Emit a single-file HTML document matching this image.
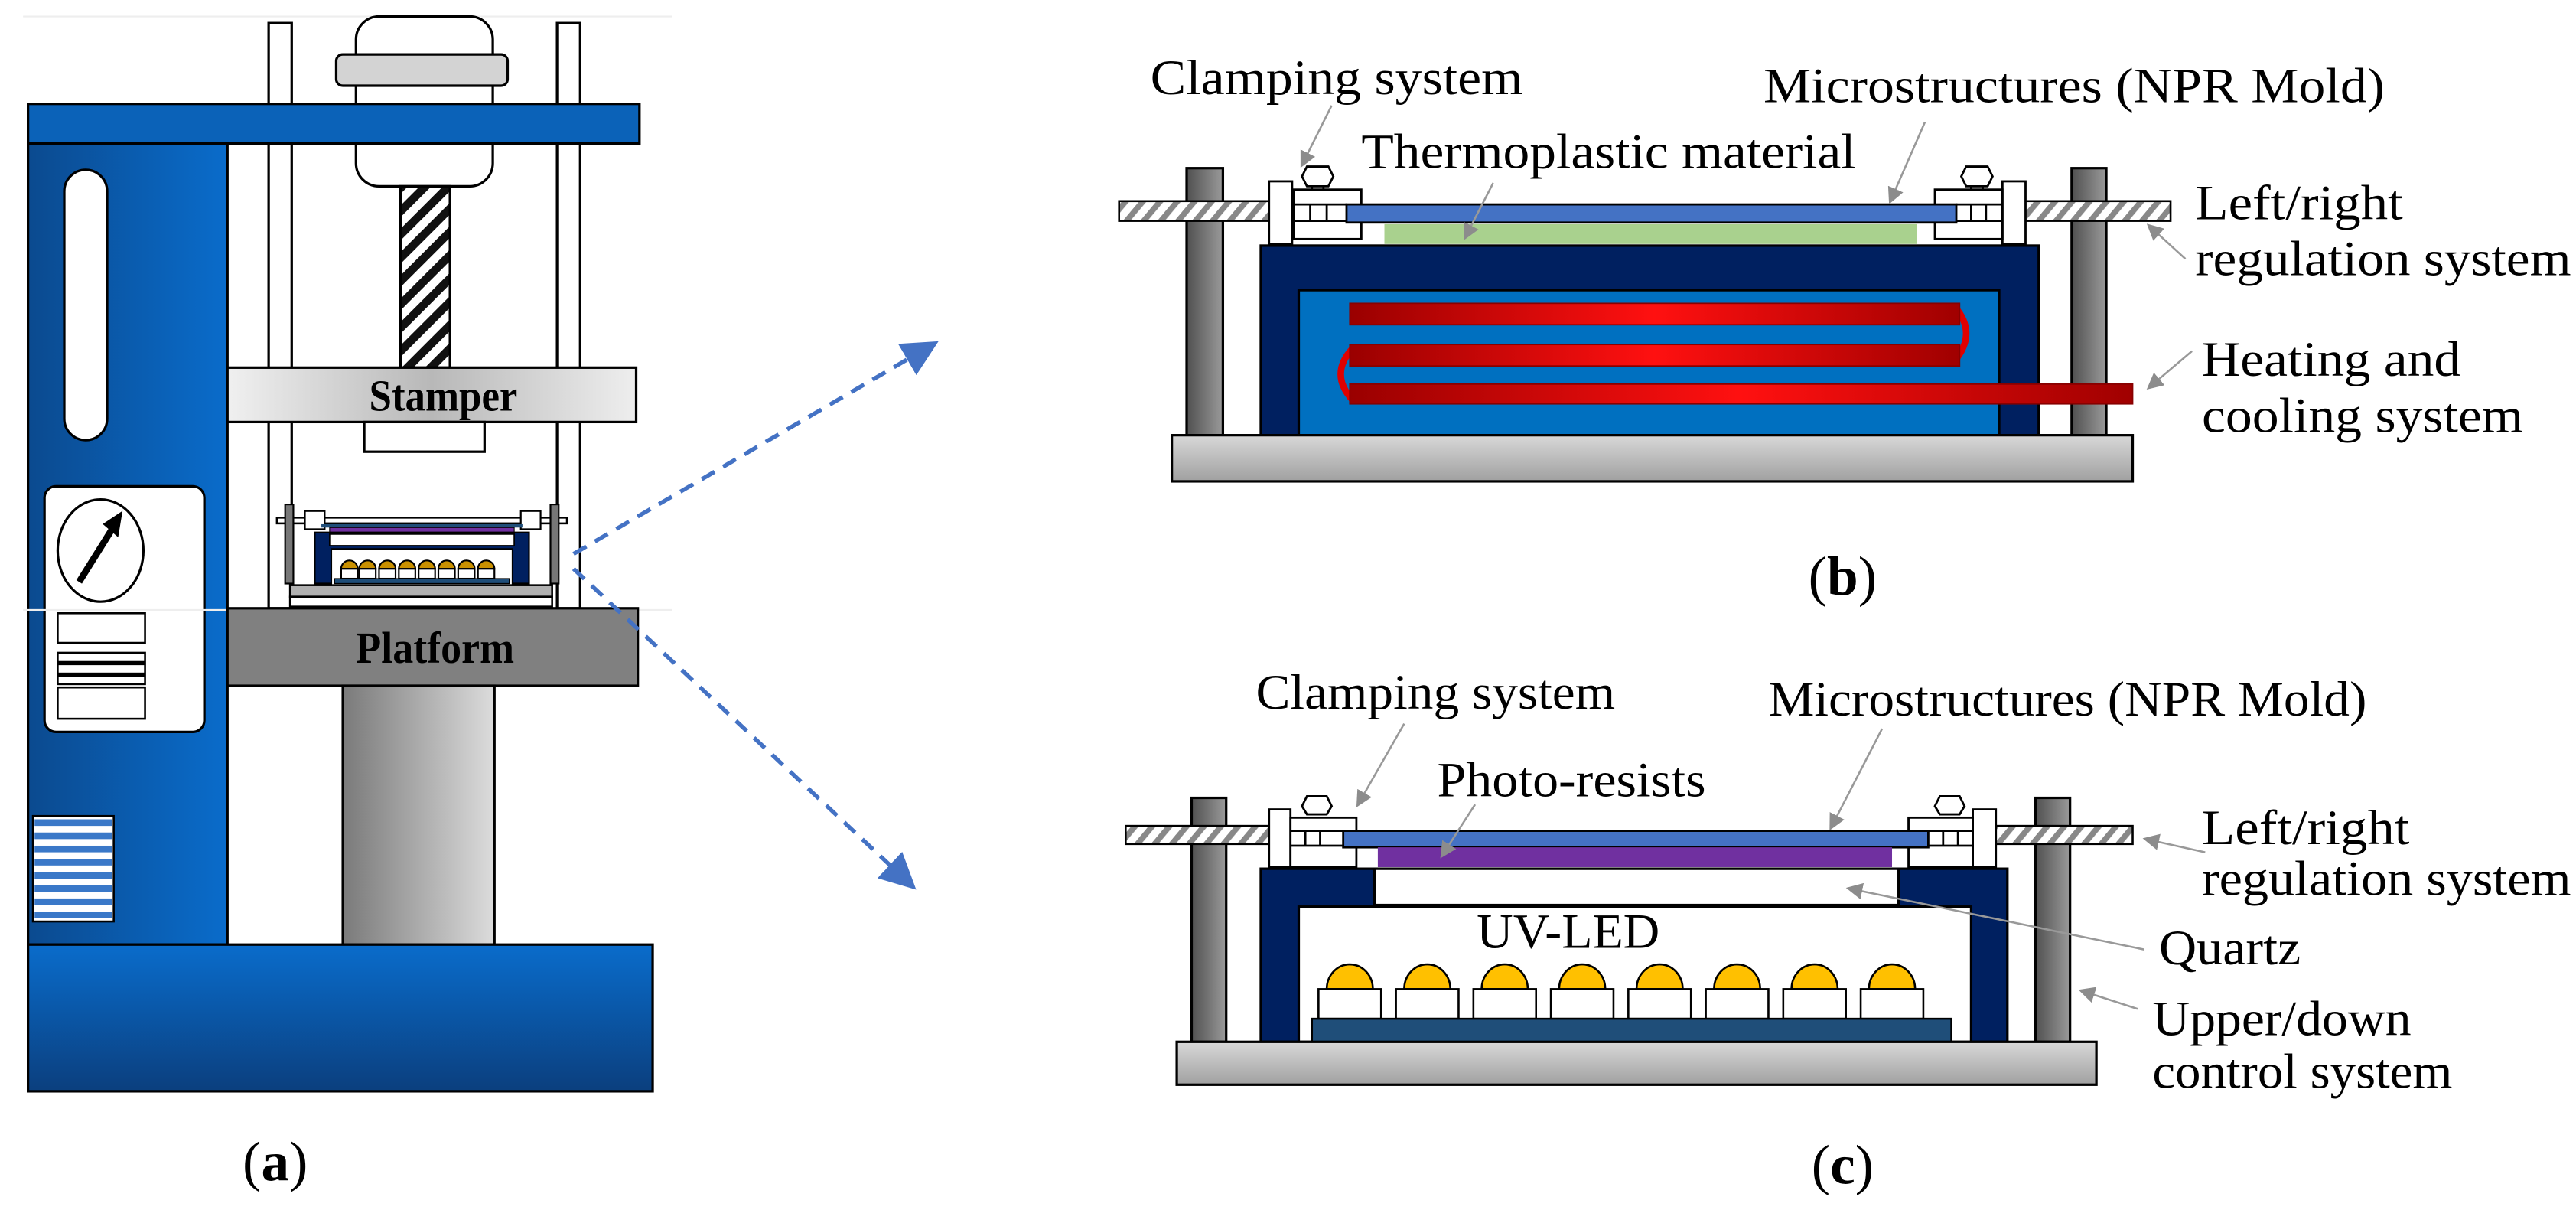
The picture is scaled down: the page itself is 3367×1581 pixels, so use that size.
<!DOCTYPE html>
<html><head><meta charset="utf-8"><style>
html,body{margin:0;padding:0;background:#fff;}
svg{display:block;}
text{font-family:"Liberation Serif",serif;fill:#000;}
</style></head><body>
<svg width="3367" height="1581" viewBox="0 0 1563 734" preserveAspectRatio="none" xmlns="http://www.w3.org/2000/svg">
<defs>
<linearGradient id="blueV" x1="0" y1="0" x2="1" y2="0"><stop offset="0" stop-color="#0b4a8f"/><stop offset="1" stop-color="#0a6ccb"/></linearGradient>
<linearGradient id="blueBase" x1="0" y1="0" x2="0" y2="1"><stop offset="0" stop-color="#0a6ccb"/><stop offset="1" stop-color="#0b3f7e"/></linearGradient>
<linearGradient id="stampG" x1="0" y1="0" x2="1" y2="0"><stop offset="0" stop-color="#f0f0f0"/><stop offset="0.5" stop-color="#b8b8b8"/><stop offset="1" stop-color="#eeeeee"/></linearGradient>
<linearGradient id="colG" x1="0" y1="0" x2="1" y2="0"><stop offset="0" stop-color="#7a7a7a"/><stop offset="1" stop-color="#dcdcdc"/></linearGradient>
<linearGradient id="postG" x1="0" y1="0" x2="1" y2="0"><stop offset="0" stop-color="#505050"/><stop offset="1" stop-color="#9a9a9a"/></linearGradient>
<linearGradient id="baseG" x1="0" y1="0" x2="0" y2="1"><stop offset="0" stop-color="#d8d8d8"/><stop offset="1" stop-color="#a0a0a0"/></linearGradient>
<linearGradient id="redG" x1="0" y1="0" x2="1" y2="0"><stop offset="0" stop-color="#9a0000"/><stop offset="0.5" stop-color="#ff1010"/><stop offset="1" stop-color="#a00000"/></linearGradient>
<pattern id="hatch" width="8" height="8" patternUnits="userSpaceOnUse" patternTransform="rotate(40)"><rect width="8" height="8" fill="#fff"/><rect width="3.5" height="8" fill="#888"/></pattern>
<pattern id="hatch2" width="10" height="10" patternUnits="userSpaceOnUse" patternTransform="rotate(45)"><rect width="10" height="10" fill="#fff"/><rect width="5" height="10" fill="#111"/></pattern>
<marker id="ga" markerWidth="10" markerHeight="10" refX="8" refY="5" orient="auto" markerUnits="userSpaceOnUse"><path d="M0,0 L10,5 L0,10 Z" fill="#8c8c8c"/></marker>
<marker id="ba" markerWidth="22" markerHeight="22" refX="18" refY="11" orient="auto" markerUnits="userSpaceOnUse"><path d="M0,0 L22,11 L0,22 Z" fill="#4472c4"/></marker>
</defs>

<!-- ===== Panel (a) ===== -->
<line x1="14" y1="10" x2="408" y2="10" stroke="#eee" stroke-width="1"/>
<!-- rods -->
<rect x="163" y="14" width="14" height="355" fill="#fff" stroke="#000" stroke-width="1.5"/>
<rect x="338" y="14" width="14" height="355" fill="#fff" stroke="#000" stroke-width="1.5"/>
<!-- top cap -->
<rect x="216" y="10" width="83" height="103" rx="14" fill="#fff" stroke="#000" stroke-width="1.5"/>
<rect x="204" y="33" width="104" height="19" rx="4" fill="#d3d3d3" stroke="#000" stroke-width="1.5"/>
<!-- screw -->
<rect x="243" y="113" width="30" height="110" fill="url(#hatch2)" stroke="#000" stroke-width="1.5"/>
<!-- left column -->
<rect x="17" y="63" width="121" height="510" fill="url(#blueV)" stroke="#000" stroke-width="1.5"/>
<rect x="17" y="63" width="371" height="24" fill="#0b62b8" stroke="#000" stroke-width="1.5"/>
<rect x="39" y="103" width="26" height="164" rx="13" fill="#fff" stroke="#000" stroke-width="1.5"/>
<rect x="27" y="295" width="97" height="149" rx="7" fill="#fff" stroke="#000" stroke-width="1.5"/>
<ellipse cx="61" cy="334" rx="26" ry="31" fill="#fff" stroke="#000" stroke-width="1.5"/>
<line x1="48" y1="353" x2="68" y2="321" stroke="#000" stroke-width="4"/>
<path d="M64,318 L73,312 L71,324 Z" fill="#000" stroke="#000" stroke-width="2"/>
<rect x="35" y="372" width="53" height="18" fill="#fff" stroke="#000" stroke-width="1.2"/>
<rect x="35" y="396" width="53" height="19" fill="#fff" stroke="#000" stroke-width="1.2"/>
<rect x="35" y="401" width="53" height="2.5" fill="#000"/><rect x="35" y="408" width="53" height="2.5" fill="#000"/>
<rect x="35" y="417" width="53" height="19" fill="#fff" stroke="#000" stroke-width="1.2"/>
<rect x="20" y="495" width="49" height="64" fill="#fff" stroke="#000" stroke-width="1.2"/>
<g fill="#3a78c8"><rect x="21" y="497" width="47" height="4"/><rect x="21" y="505" width="47" height="4"/><rect x="21" y="513" width="47" height="4"/><rect x="21" y="521" width="47" height="4"/><rect x="21" y="529" width="47" height="4"/><rect x="21" y="537" width="47" height="4"/><rect x="21" y="545" width="47" height="4"/><rect x="21" y="553" width="47" height="4"/></g>
<!-- stamper -->
<rect x="138" y="223" width="248" height="33" fill="url(#stampG)" stroke="#000" stroke-width="1.5"/>
<text x="269" y="249" font-size="27" font-weight="bold" text-anchor="middle" textLength="90" lengthAdjust="spacingAndGlyphs">Stamper</text>
<rect x="221" y="256" width="73" height="18" fill="#fff" stroke="#000" stroke-width="1.5"/>
<!-- mini device -->
<rect x="168" y="314" width="176" height="3.5" fill="#fff" stroke="#000" stroke-width="1.2"/>
<rect x="173" y="306" width="5" height="48" fill="#777" stroke="#000" stroke-width="1"/>
<rect x="334" y="306" width="5" height="48" fill="#777" stroke="#000" stroke-width="1"/>
<rect x="185" y="310" width="12" height="11" fill="#fff" stroke="#000" stroke-width="1"/>
<rect x="316" y="310" width="12" height="11" fill="#fff" stroke="#000" stroke-width="1"/>
<rect x="195" y="318" width="122" height="2" fill="#1f4e79"/>
<rect x="200" y="320" width="112" height="3" fill="#7030a0" stroke="#000" stroke-width="0.5"/>
<path d="M191,323 H321 V354 H311 V333 H201 V354 H191 Z" fill="#002060" stroke="#000" stroke-width="1"/>
<rect x="200" y="324" width="112" height="7" fill="#fff" stroke="#000" stroke-width="0.8"/>
<g fill="#fff" stroke="#000" stroke-width="1"><rect x="207" y="345" width="10" height="6"/><rect x="218" y="345" width="10" height="6"/><rect x="230" y="345" width="10" height="6"/><rect x="242" y="345" width="10" height="6"/><rect x="254" y="345" width="10" height="6"/><rect x="266" y="345" width="10" height="6"/><rect x="278" y="345" width="10" height="6"/><rect x="290" y="345" width="10" height="6"/></g>
<g fill="#c99000" stroke="#000" stroke-width="1"><path d="M207,345 a5,5 0 0 1 10,0Z"/><path d="M218,345 a5,5 0 0 1 10,0Z"/><path d="M230,345 a5,5 0 0 1 10,0Z"/><path d="M242,345 a5,5 0 0 1 10,0Z"/><path d="M254,345 a5,5 0 0 1 10,0Z"/><path d="M266,345 a5,5 0 0 1 10,0Z"/><path d="M278,345 a5,5 0 0 1 10,0Z"/><path d="M290,345 a5,5 0 0 1 10,0Z"/></g>
<rect x="203" y="351" width="106" height="3" fill="#1f4e79" stroke="#000" stroke-width="0.6"/>
<rect x="176" y="355" width="159" height="7" fill="#b0b0b0" stroke="#000" stroke-width="1.2"/>
<rect x="176" y="362" width="159" height="6" fill="#fff" stroke="#000" stroke-width="1.2"/>
<!-- platform -->
<line x1="14" y1="370" x2="408" y2="370" stroke="#eee" stroke-width="1"/>
<rect x="138" y="369" width="249" height="47" fill="#808080" stroke="#000" stroke-width="1.5"/>
<text x="264" y="402" font-size="27" font-weight="bold" text-anchor="middle" textLength="96" lengthAdjust="spacingAndGlyphs">Platform</text>
<rect x="208" y="416" width="92" height="157" fill="url(#colG)" stroke="#000" stroke-width="1.5"/>
<rect x="17" y="573" width="379" height="89" fill="url(#blueBase)" stroke="#000" stroke-width="1.5"/>
<text x="167" y="716" font-size="34" text-anchor="middle">(<tspan font-weight="bold">a</tspan>)</text>
<!-- dashed connectors -->
<line x1="348" y1="336" x2="566" y2="209" stroke="#4472c4" stroke-width="2.5" stroke-dasharray="9,6" marker-end="url(#ba)"/>
<line x1="348" y1="345" x2="553" y2="537" stroke="#4472c4" stroke-width="2.5" stroke-dasharray="9,6" marker-end="url(#ba)"/>

<!-- ===== Panel (b) ===== -->
<rect x="720" y="102" width="22" height="162" fill="url(#postG)" stroke="#000" stroke-width="1.5"/>
<rect x="1257" y="102" width="21" height="162" fill="url(#postG)" stroke="#000" stroke-width="1.5"/>
<rect x="679" y="122" width="106" height="12" fill="url(#hatch)" stroke="#000" stroke-width="1.2"/>
<rect x="1213" y="122" width="104" height="12" fill="url(#hatch)" stroke="#000" stroke-width="1.2"/>
<rect x="765" y="149" width="472" height="115" fill="#002060" stroke="#000" stroke-width="1.5"/>
<rect x="788" y="176" width="425" height="88" fill="#0070c0" stroke="#000" stroke-width="1.5"/>
<!-- clamps b -->
<g stroke="#000" stroke-width="1.3" fill="#fff">
<rect x="770" y="110" width="14" height="38"/><rect x="785" y="115" width="41" height="30"/>
<line x1="785" y1="124" x2="817" y2="124"/><line x1="785" y1="134" x2="817" y2="134"/><line x1="795" y1="124" x2="795" y2="134"/><line x1="805" y1="124" x2="805" y2="134"/>
<path d="M793,101 H806 L809,107 L806,113 H793 L790,107 Z"/><rect x="796" y="113" width="7" height="2"/>
<rect x="1215" y="110" width="14" height="38"/><rect x="1174" y="115" width="41" height="30"/>
<line x1="1187" y1="124" x2="1215" y2="124"/><line x1="1187" y1="134" x2="1215" y2="134"/><line x1="1196" y1="124" x2="1196" y2="134"/><line x1="1205" y1="124" x2="1205" y2="134"/>
<path d="M1193,101 H1206 L1209,107 L1206,113 H1193 L1190,107 Z"/><rect x="1196" y="113" width="7" height="2"/>
</g>
<rect x="817" y="124" width="370" height="11" fill="#4472c4" stroke="#000" stroke-width="1.3"/>
<rect x="840" y="136" width="323" height="12" fill="#a9d18e"/>
<!-- heating tubes -->
<path d="M1186,186 Q1200,202 1186,219" fill="none" stroke="#e00000" stroke-width="4"/>
<path d="M821,211 Q806,227 821,243" fill="none" stroke="#e00000" stroke-width="4"/>
<rect x="819" y="184" width="370" height="13" fill="url(#redG)" stroke="#800" stroke-width="0.8"/>
<rect x="819" y="209" width="370" height="13" fill="url(#redG)" stroke="#800" stroke-width="0.8"/>
<rect x="819" y="233" width="475" height="12" fill="url(#redG)" stroke="#800" stroke-width="0.8"/>
<rect x="711" y="264" width="583" height="28" fill="url(#baseG)" stroke="#000" stroke-width="1.5"/>
<!-- labels b -->
<g stroke="#999" stroke-width="1.2" fill="none">
<line x1="808" y1="64" x2="790" y2="100" marker-end="url(#ga)"/>
<line x1="1168" y1="74" x2="1147" y2="122" marker-end="url(#ga)"/>
<line x1="906" y1="111" x2="889" y2="144" marker-end="url(#ga)"/>
<line x1="1326" y1="157" x2="1304" y2="137" marker-end="url(#ga)"/>
<line x1="1330" y1="213" x2="1304" y2="235" marker-end="url(#ga)"/>
</g>
<text x="698" y="57" font-size="30" textLength="226" lengthAdjust="spacingAndGlyphs">Clamping system</text>
<text x="1070" y="62" font-size="30" textLength="377" lengthAdjust="spacingAndGlyphs">Microstructures (NPR Mold)</text>
<text x="826" y="102" font-size="30" textLength="300" lengthAdjust="spacingAndGlyphs">Thermoplastic material</text>
<text x="1332" y="133" font-size="30" textLength="126" lengthAdjust="spacingAndGlyphs">Left/right</text>
<text x="1332" y="167" font-size="30" textLength="228" lengthAdjust="spacingAndGlyphs">regulation system</text>
<text x="1336" y="228" font-size="30" textLength="157" lengthAdjust="spacingAndGlyphs">Heating and</text>
<text x="1336" y="262" font-size="30" textLength="195" lengthAdjust="spacingAndGlyphs">cooling system</text>
<text x="1118" y="361" font-size="34" text-anchor="middle">(<tspan font-weight="bold">b</tspan>)</text>

<!-- ===== Panel (c) ===== -->
<rect x="723" y="484" width="21" height="148" fill="url(#postG)" stroke="#000" stroke-width="1.5"/>
<rect x="1235" y="484" width="21" height="148" fill="url(#postG)" stroke="#000" stroke-width="1.5"/>
<rect x="683" y="501" width="102" height="11" fill="url(#hatch)" stroke="#000" stroke-width="1.2"/>
<rect x="1196" y="501" width="98" height="11" fill="url(#hatch)" stroke="#000" stroke-width="1.2"/>
<rect x="765" y="527" width="453" height="105" fill="#002060" stroke="#000" stroke-width="1.5"/>
<rect x="788" y="550" width="408" height="82" fill="#fff" stroke="#000" stroke-width="1.5"/>
<rect x="834" y="527" width="318" height="22" fill="#fff" stroke="#000" stroke-width="1.5"/>
<g stroke="#000" stroke-width="1.3" fill="#fff">
<rect x="770" y="491" width="13" height="35"/><rect x="783" y="496" width="40" height="30"/>
<line x1="783" y1="504" x2="815" y2="504"/><line x1="783" y1="513" x2="815" y2="513"/><line x1="792" y1="504" x2="792" y2="513"/><line x1="801" y1="504" x2="801" y2="513"/>
<path d="M793,483 H805 L808,489 L805,494 H793 L790,489 Z"/>
<rect x="1197" y="491" width="14" height="35"/><rect x="1158" y="496" width="39" height="30"/>
<line x1="1170" y1="504" x2="1197" y2="504"/><line x1="1170" y1="513" x2="1197" y2="513"/><line x1="1179" y1="504" x2="1179" y2="513"/><line x1="1188" y1="504" x2="1188" y2="513"/>
<path d="M1177,483 H1189 L1192,489 L1189,494 H1177 L1174,489 Z"/>
</g>
<rect x="815" y="504" width="355" height="10" fill="#4472c4" stroke="#000" stroke-width="1.3"/>
<rect x="836" y="514" width="312" height="12" fill="#7030a0"/>
<!-- LEDs -->
<g stroke="#000" stroke-width="1.2">
<g fill="#ffc000">
<path d="M805,600 a14,15 0 0 1 28,0 Z"/><path d="M852,600 a14,15 0 0 1 28,0 Z"/><path d="M899,600 a14,15 0 0 1 28,0 Z"/><path d="M946,600 a14,15 0 0 1 28,0 Z"/><path d="M993,600 a14,15 0 0 1 28,0 Z"/><path d="M1040,600 a14,15 0 0 1 28,0 Z"/><path d="M1087,600 a14,15 0 0 1 28,0 Z"/><path d="M1134,600 a14,15 0 0 1 28,0 Z"/>
</g>
<g fill="#fff">
<rect x="800" y="600" width="38" height="18"/><rect x="847" y="600" width="38" height="18"/><rect x="894" y="600" width="38" height="18"/><rect x="941" y="600" width="38" height="18"/><rect x="988" y="600" width="38" height="18"/><rect x="1035" y="600" width="38" height="18"/><rect x="1082" y="600" width="38" height="18"/><rect x="1129" y="600" width="38" height="18"/>
</g>
<rect x="796" y="618" width="388" height="14" fill="#1f4e79"/>
</g>
<rect x="714" y="632" width="558" height="26" fill="url(#baseG)" stroke="#000" stroke-width="1.5"/>
<g stroke="#999" stroke-width="1.2" fill="none">
<line x1="852" y1="439" x2="824" y2="488" marker-end="url(#ga)"/>
<line x1="1142" y1="442" x2="1111" y2="502" marker-end="url(#ga)"/>
<line x1="895" y1="488" x2="875" y2="519" marker-end="url(#ga)"/>
<line x1="1338" y1="517" x2="1302" y2="509" marker-end="url(#ga)"/>
<line x1="1301" y1="576" x2="1122" y2="539" marker-end="url(#ga)"/>
<line x1="1297" y1="612" x2="1263" y2="601" marker-end="url(#ga)"/>
</g>
<text x="762" y="430" font-size="30" textLength="218" lengthAdjust="spacingAndGlyphs">Clamping system</text>
<text x="1073" y="434" font-size="30" textLength="363" lengthAdjust="spacingAndGlyphs">Microstructures (NPR Mold)</text>
<text x="872" y="483" font-size="30" textLength="163" lengthAdjust="spacingAndGlyphs">Photo-resists</text>
<text x="896" y="575" font-size="30" textLength="111" lengthAdjust="spacingAndGlyphs">UV-LED</text>
<text x="1336" y="512" font-size="30" textLength="126" lengthAdjust="spacingAndGlyphs">Left/right</text>
<text x="1336" y="543" font-size="30" textLength="224" lengthAdjust="spacingAndGlyphs">regulation system</text>
<text x="1310" y="585" font-size="30" textLength="86" lengthAdjust="spacingAndGlyphs">Quartz</text>
<text x="1306" y="628" font-size="30" textLength="157" lengthAdjust="spacingAndGlyphs">Upper/down</text>
<text x="1306" y="660" font-size="30" textLength="182" lengthAdjust="spacingAndGlyphs">control system</text>
<text x="1118" y="718" font-size="34" text-anchor="middle">(<tspan font-weight="bold">c</tspan>)</text>
</svg>
</body></html>
